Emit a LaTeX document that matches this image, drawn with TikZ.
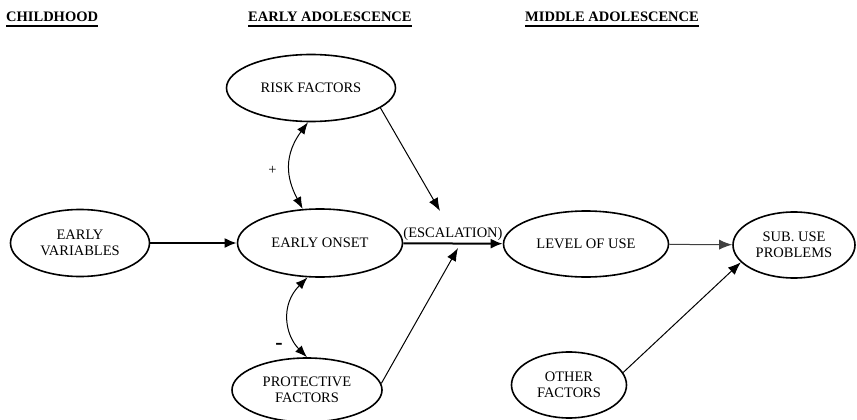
\documentclass[tikz,border=0pt]{standalone}
\usepackage{fontspec}
\setmainfont{Liberation Serif}
\usetikzlibrary{shapes.geometric,arrows.meta}

\begin{document}
\begin{tikzpicture}[x=1pt, y=-1pt,
    % Styles
    factor/.style={draw, ellipse, line width=1.6pt, inner sep=0pt, align=center,
                   font=\fontsize{14.5}{16.5}\selectfont},
    header/.style={anchor=base west, inner sep=0pt, font=\fontsize{14.5}{16}\selectfont\bfseries},
    uline/.style={line width=1.6pt},
    arrow/.style={-{Latex[length=12pt,width=10pt]}, line width=2pt},
    thinarrow/.style={-{Latex[length=13pt,width=10pt]}, line width=1pt},
    twoway/.style={{Latex[length=12pt,width=9pt]}-{Latex[length=12pt,width=9pt]}, line width=1pt},
    lbl/.style={font=\fontsize{14.5}{16}\selectfont, inner sep=1pt},
  ]
  \useasboundingbox (0,0) rectangle (857,420);

  % Headers
  \node[header] (childhood) at (6,22) {CHILDHOOD};
  \node[header] (earlyadol) at (248,22) {EARLY ADOLESCENCE};
  \node[header] (midadol) at (525,22) {MIDDLE ADOLESCENCE};
  \draw[uline] ([yshift=-4pt]childhood.base west) -- ([yshift=-4pt]childhood.base east);
  \draw[uline] ([yshift=-4pt]earlyadol.base west) -- ([yshift=-4pt]earlyadol.base east);
  \draw[uline] ([yshift=-4pt]midadol.base west) -- ([yshift=-4pt]midadol.base east);

  % Ellipses
  \node[factor, minimum width=139pt, minimum height=67pt] (earlyvar) at (80,243) {EARLY\\VARIABLES};
  \node[factor, minimum width=169pt, minimum height=67pt] (risk) at (311,88) {RISK FACTORS};
  \node[factor, minimum width=165pt, minimum height=68pt] (onset) at (320,243) {EARLY ONSET};
  \node[factor, minimum width=150pt, minimum height=64pt] (protect) at (307,390) {PROTECTIVE\\FACTORS};
  \node[factor, minimum width=165pt, minimum height=66pt] (level) at (586,244) {LEVEL OF USE};
  \node[factor, minimum width=122pt, minimum height=66pt] (subuse) at (794,245) {SUB. USE\\PROBLEMS};
  \node[factor, minimum width=115pt, minimum height=66pt] (other) at (569,385) {OTHER\\FACTORS};

  % Moderator ends on the escalation path
  \coordinate (riskend) at (440,211);
  \coordinate (protectend) at (458,248);

  % Arrows
  \draw[arrow] (earlyvar) -- (onset);
  \draw[arrow] (onset) -- (level) node[midway, above=1pt, lbl] {(ESCALATION)};
  \draw[thinarrow] (risk.-16) -- (riskend);
  \draw[thinarrow] (protect.5) -- (protectend);
  \draw[thinarrow, draw=black!75] (level) -- (subuse);
  \draw[thinarrow] (other.13) -- (subuse.198);

  % Two-way links
  \draw[twoway] (risk.265) .. controls (280,160) and (290,185) .. (onset.117)
    node[pos=0.5, left=12pt, lbl] (plus) {+};
  \draw[twoway] (onset.250) .. controls (280,305) and (285,335) .. (protect.north)
    node[pos=0.85, left=14pt, lbl, font=\fontsize{22}{22}\selectfont\bfseries] (minus) {-};

\end{tikzpicture}
\end{document}
